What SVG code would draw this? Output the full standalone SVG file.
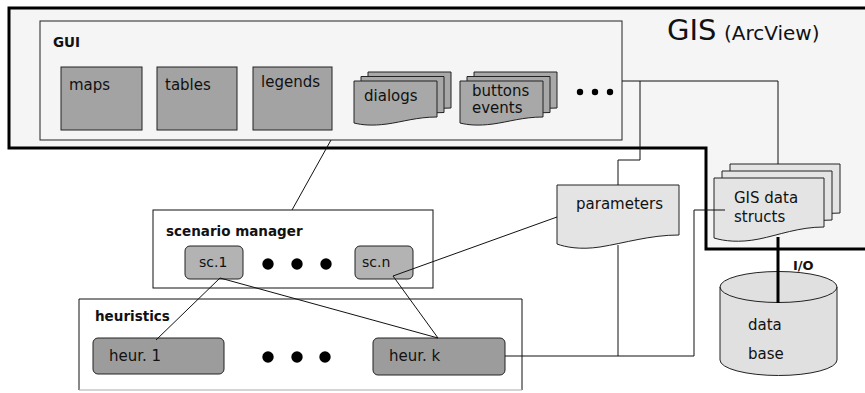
<svg xmlns="http://www.w3.org/2000/svg" width="865" height="393" viewBox="0 0 865 393">
<style>
text{font-family:"DejaVu Sans","Liberation Sans",sans-serif;fill:#111}
.t{font-size:15px}
.b{font-size:13.5px;font-weight:bold}
.box{fill:#a3a3a3;stroke:#222;stroke-width:1}
.doc{fill:#a8a8a8;stroke:#222;stroke-width:1}
.ldoc{fill:#e4e4e4;stroke:#222;stroke-width:1}
.sc{fill:#b3b3b3;stroke:#222;stroke-width:1}
.heur{fill:#9c9c9c;stroke:#222;stroke-width:1}
.frame{fill:#fff;stroke:#111;stroke-width:1}
.ln{fill:none;stroke:#111;stroke-width:1}
.thick{fill:none;stroke:#000;stroke-width:3}
</style>
<g id="gis">
<path d="M9,8 H868 V249 H706 V148 H9 Z" fill="#f5f5f5" stroke="#000" stroke-width="3"/>
<text x="667" y="40" style="font-size:29px">GIS</text>
<text x="724" y="40" style="font-size:20px">(ArcView)</text>
</g>
<g id="gui">
<rect x="40" y="21" width="582" height="119" fill="#f5f5f5" stroke="#222" stroke-width="1"/>
<text x="53" y="47" style="font-size:13.5px;font-weight:bold">GUI</text>
</g>
<g id="maps"><rect class="box" x="61" y="67" width="81" height="63"/><text class="t" x="69" y="90">maps</text></g>
<g id="tables"><rect class="box" x="157" y="67" width="80" height="63"/><text class="t" x="165" y="90">tables</text></g>
<g id="legends"><rect class="box" x="253" y="67" width="79" height="63"/><text class="t" x="261" y="87">legends</text></g>
<g id="dialogs">
<path class="doc" d="M368,72 h83 v36 c-20,0 -35,5 -50,7 c-15,2 -25,1 -33,-1 Z"/>
<path class="doc" d="M361,76.5 h83 v36 c-20,0 -35,5 -50,7 c-15,2 -25,1 -33,-1 Z"/>
<path class="doc" d="M354,81 h83 v36 c-20,0 -35,5 -50,7 c-15,2 -25,1 -33,-1 Z"/>
<text class="t" x="364" y="101">dialogs</text>
</g>
<g id="buttons">
<path class="doc" d="M474,72 h83 v36 c-20,0 -35,5 -50,7 c-15,2 -25,1 -33,-1 Z"/>
<path class="doc" d="M467,76.5 h83 v36 c-20,0 -35,5 -50,7 c-15,2 -25,1 -33,-1 Z"/>
<path class="doc" d="M460,81 h83 v36 c-20,0 -35,5 -50,7 c-15,2 -25,1 -33,-1 Z"/>
<text class="t" x="472" y="96">buttons</text>
<text class="t" x="472" y="113">events</text>
</g>
<g id="gui-dots" fill="#000"><circle cx="580" cy="92" r="3.2"/><circle cx="595" cy="92" r="3.2"/><circle cx="610" cy="92" r="3.2"/></g>
<g id="scenario-manager">
<rect class="frame" x="153" y="210" width="280" height="78"/>
<text class="b" x="166" y="236">scenario manager</text>
</g>
<g id="sc1"><rect class="sc" x="185" y="246" width="58" height="33" rx="5"/><text class="t" x="199" y="267" style="font-size:14px">sc.1</text></g>
<g id="sm-dots" fill="#000"><circle cx="268" cy="264" r="5.7"/><circle cx="297" cy="264" r="5.7"/><circle cx="326" cy="264" r="5.7"/></g>
<g id="scn"><rect class="sc" x="355" y="246" width="58" height="33" rx="5"/><text class="t" x="362" y="267" style="font-size:14px">sc.n</text></g>
<g id="heuristics">
<path d="M79,390 V299 H522 V390" fill="#fff" stroke="#111" stroke-width="1"/>
<line x1="79" y1="390" x2="522" y2="390" stroke="#aaa" stroke-width="1"/>
<text class="b" x="95" y="321">heuristics</text>
</g>
<g id="heur1"><rect class="heur" x="93" y="338" width="131" height="36" rx="5"/><text class="t" x="109" y="361">heur. 1</text></g>
<g id="h-dots" fill="#000"><circle cx="268" cy="357" r="5.7"/><circle cx="297" cy="357" r="5.7"/><circle cx="325" cy="357" r="5.7"/></g>
<g id="heurk"><rect class="heur" x="373" y="338" width="132" height="37" rx="5"/><text class="t" x="389" y="361">heur. k</text></g>
<g id="parameters">
<path class="ldoc" d="M557,185 H679 V235 C650,235 625,243 600,247 C580,250 565,247 557,244 Z"/>
<text class="t" x="576" y="209">parameters</text>
</g>
<g id="gis-data">
<path class="ldoc" d="M730,164 h110 v49 c-25,0 -45,8 -65,12 c-20,4 -35,2 -45,-1 Z"/>
<path class="ldoc" d="M722,171 h110 v49 c-25,0 -45,8 -65,12 c-20,4 -35,2 -45,-1 Z"/>
<path class="ldoc" d="M714,178 h110 v49 c-25,0 -45,8 -65,12 c-20,4 -35,2 -45,-1 Z"/>
<text class="t" x="734" y="203">GIS data</text>
<text class="t" x="734" y="222">structs</text>
</g>
<g id="database">
<path d="M720,287 A58.5,15.5 0 0 1 837,287 V360 A58.5,15.5 0 0 1 720,360 Z" fill="#e0e0e0" stroke="#222" stroke-width="1"/>
<path d="M720,287 A58.5,15.5 0 0 0 837,287" fill="none" stroke="#222" stroke-width="1"/>
<text class="t" x="748" y="330">data</text>
<text class="t" x="748" y="359">base</text>
</g>
<g id="connectors">
<path class="ln" d="M622,81 H778 V164"/>
<path class="ln" d="M640,81 V160 H618 V185"/>
<path class="ln" d="M331,140 L292,210"/>
<path class="ln" d="M220,278 L156,340"/>
<path class="ln" d="M220,278 L438,338"/>
<path class="ln" d="M393,276 L438,338"/>
<path class="ln" d="M393,276 L557,217"/>
<path class="ln" d="M505,356 H694 V210 H725"/>
<path class="ln" d="M618,245 V356"/>
<path class="thick" d="M778,237 V303"/>
<text x="793" y="270" style="font-size:13px;font-weight:bold">I/O</text>
</g>
</svg>
